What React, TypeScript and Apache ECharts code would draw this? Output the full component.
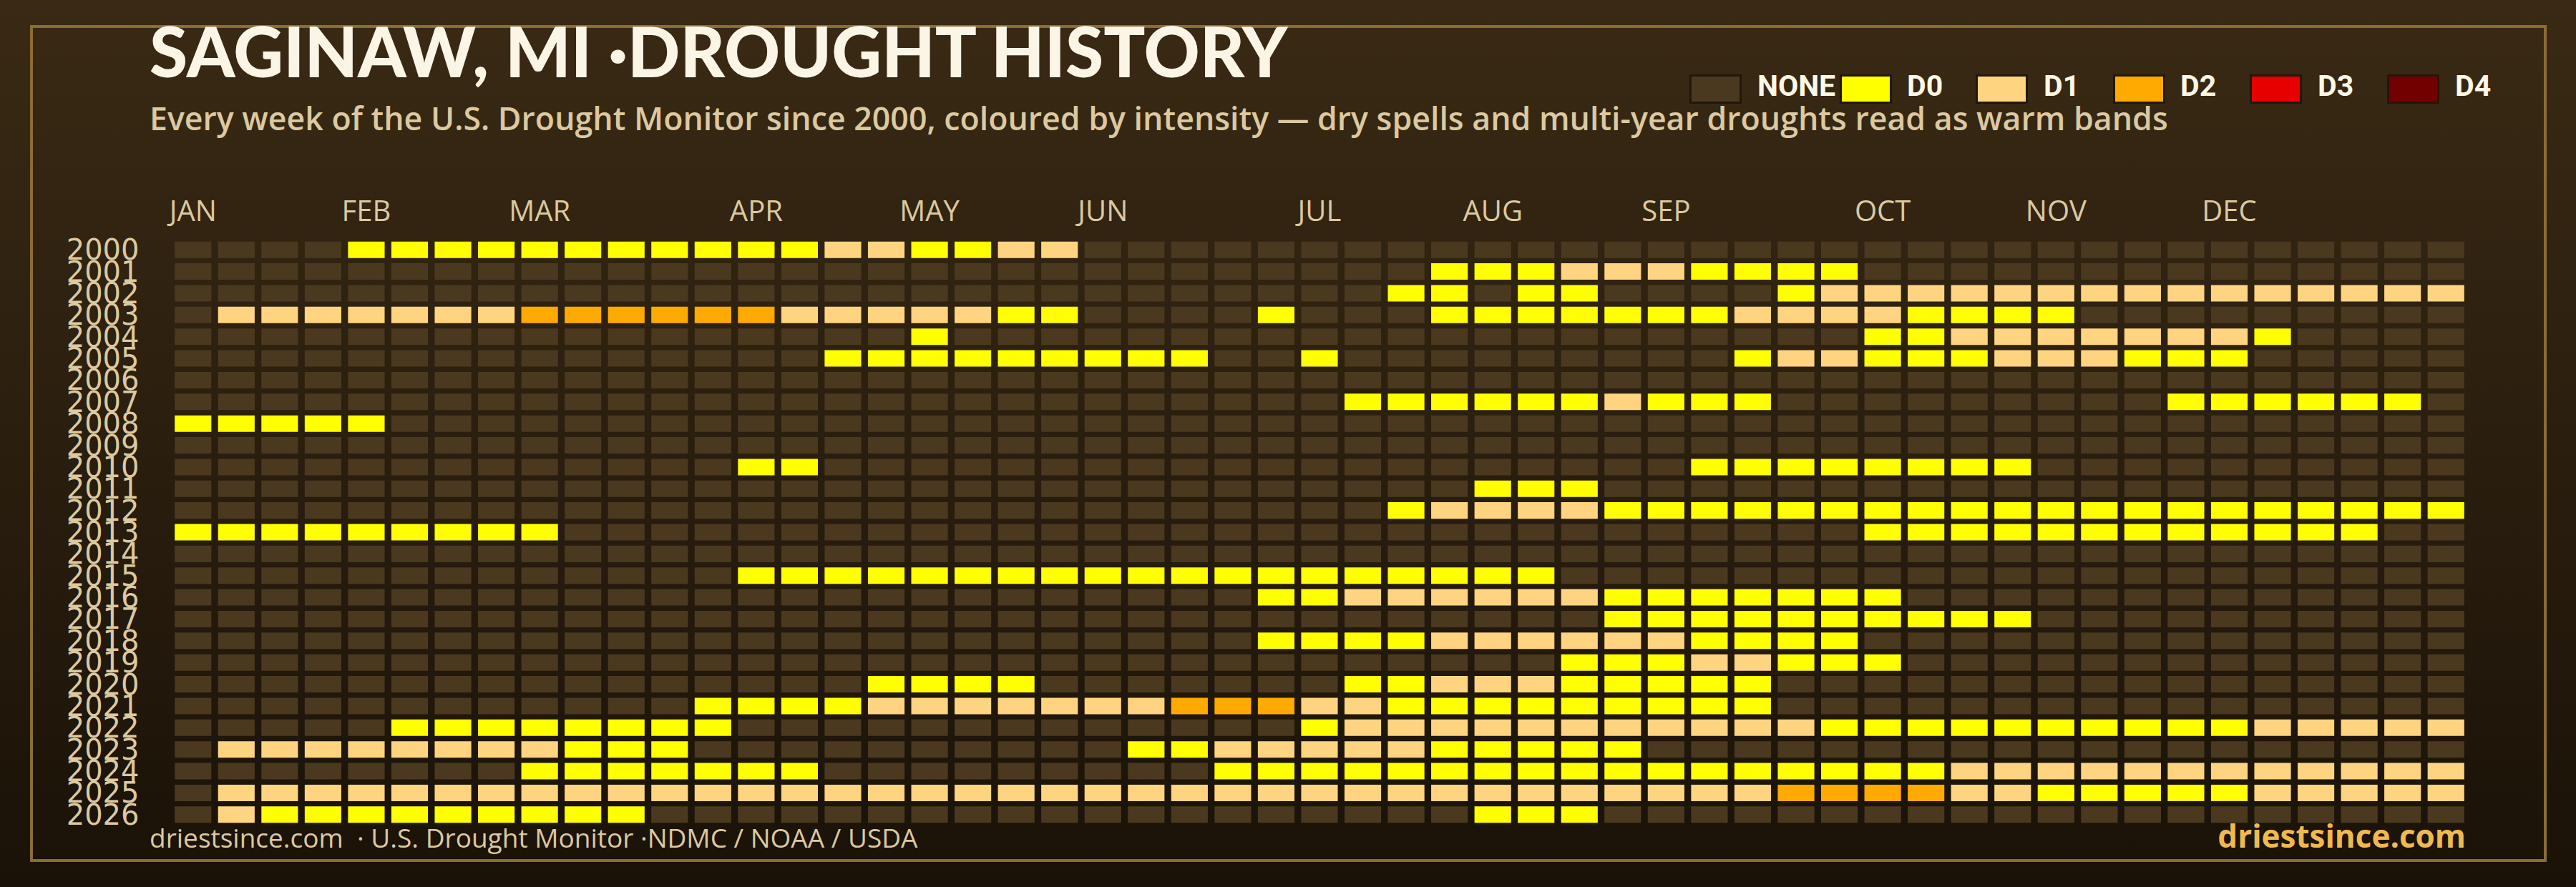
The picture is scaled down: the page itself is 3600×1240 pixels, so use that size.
import React, { useEffect, useRef } from "react";
import * as echarts from "echarts";

const TITLE = "SAGINAW, MI ·DROUGHT HISTORY";
const SUBTITLE = "Every week of the U.S. Drought Monitor since 2000, coloured by intensity — dry spells and multi-year droughts read as warm bands";
const SOURCE = "driestsince.com  · U.S. Drought Monitor ·NDMC / NOAA / USDA";
const BRAND = "driestsince.com";

const YEARS = ["2000","2001","2002","2003","2004","2005","2006","2007","2008","2009","2010","2011","2012","2013","2014","2015","2016","2017","2018","2019","2020","2021","2022","2023","2024","2025","2026"];
const WEEKS = Array.from({ length: 53 }, (_, i) => String(i));
const MONTH_WEEK = [0, 4, 8, 13, 17, 21, 26, 30, 34, 39, 43, 47];
const MONTH_NAME = ["JAN","FEB","MAR","APR","MAY","JUN","JUL","AUG","SEP","OCT","NOV","DEC"];
const LEVELS = ["NONE", "D0", "D1", "D2", "D3", "D4"];
const LEVEL_COLORS = ["#4a391f", "#ffff00", "#ffd480", "#ffaa00", "#e60000", "#730000"];

// Runs of [firstWeek, lastWeek, level]; every week not listed is NONE. Level 1=D0, 2=D1, 3=D2.
const y2000 = [[4,14,1],[15,16,2],[17,18,1],[19,20,2]];
const y2001 = [[29,31,1],[32,34,2],[35,38,1]];
const y2002 = [[28,29,1],[31,32,1],[37,37,1],[38,52,2]];
const y2003 = [[1,7,2],[8,13,3],[14,18,2],[19,20,1],[25,25,1],[29,35,1],[36,39,2],[40,43,1]];
const y2004 = [[17,17,1],[39,40,1],[41,47,2],[48,48,1]];
const y2005 = [[15,23,1],[26,26,1],[36,36,1],[37,38,2],[39,41,1],[42,44,2],[45,47,1]];
const y2006: number[][] = [];
const y2007 = [[27,32,1],[33,33,2],[34,36,1],[46,51,1]];
const y2008 = [[0,4,1]];
const y2009: number[][] = [];
const y2010 = [[13,14,1],[35,42,1]];
const y2011 = [[30,32,1]];
const y2012 = [[28,28,1],[29,32,2],[33,52,1]];
const y2013 = [[0,8,1],[39,50,1]];
const y2014: number[][] = [];
const y2015 = [[13,31,1]];
const y2016 = [[25,26,1],[27,32,2],[33,39,1]];
const y2017 = [[33,42,1]];
const y2018 = [[25,28,1],[29,34,2],[35,38,1]];
const y2019 = [[32,34,1],[35,36,2],[37,39,1]];
const y2020 = [[16,19,1],[27,28,1],[29,31,2],[32,36,1]];
const y2021 = [[12,15,1],[16,22,2],[23,25,3],[26,27,2],[28,36,1]];
const y2022 = [[5,12,1],[26,26,1],[27,37,2],[38,47,1],[48,52,2]];
const y2023 = [[1,8,2],[9,11,1],[22,23,1],[24,28,2],[29,33,1]];
const y2024 = [[8,14,1],[24,40,1],[41,52,2]];
const y2025 = [[1,36,2],[37,40,3],[41,42,2],[43,47,1],[48,52,2]];
const y2026 = [[1,1,2],[2,10,1],[30,32,1]];
const YEAR_RUNS = [y2000,y2001,y2002,y2003,y2004,y2005,y2006,y2007,y2008,y2009,y2010,y2011,y2012,y2013,y2014,y2015,y2016,y2017,y2018,y2019,y2020,y2021,y2022,y2023,y2024,y2025,y2026];

const FONT = "'Open Sans'";

function pointsByLevel(): number[][][] {
  const out: number[][][] = LEVELS.map(() => []);
  YEAR_RUNS.forEach((runs, row) => {
    WEEKS.forEach((_, week) => {
      const run = runs.find((r) => week >= r[0] && week <= r[1]);
      out[run ? run[2] : 0].push([week, row]);
    });
  });
  return out;
}

const SWATCH_LEFT = [2361, 2571, 2761, 2953, 3144, 3336];
const LABEL_LEFT = [2456, 2665, 2856, 3047, 3239, 3431];

export default function App() {
  const ref = useRef<HTMLDivElement>(null);
  useEffect(() => {
    document.body.style.margin = "0";
    const chart = echarts.init(ref.current!, undefined, { renderer: "svg" });
    const pts = pointsByLevel();
    const renderItem = (_: any, api: any) => {
      const c = api.coord([api.value(0), api.value(1)]);
      const s = api.size([1, 1]);
      const w = s[0] * 0.845;
      const h = s[1] * 0.758;
      return {
        type: "rect",
        shape: { x: c[0] - w / 2, y: c[1] - h / 2, width: w, height: h },
        style: { fill: api.visual("color") },
      };
    };
    chart.setOption({
      animation: false,
      backgroundColor: {
        type: "linear", x: 0, y: 0, x2: 0, y2: 1,
        colorStops: [{ offset: 0, color: "#3a2a14" }, { offset: 1, color: "#1a1208" }],
      },
      graphic: [
        {
          type: "rect", z: 0,
          shape: { x: 44, y: 37, width: 3513, height: 1166 },
          style: { fill: "transparent", stroke: "#8a6d35", lineWidth: 4 },
        },
        ...LEVELS.flatMap((name, i) => [
          {
            type: "rect", z: 5,
            shape: { x: SWATCH_LEFT[i] + 1.5, y: 105.5, width: 70, height: 38 },
            style: { fill: LEVEL_COLORS[i], stroke: "#22170a", lineWidth: 3 },
          },
          {
            type: "text", z: 5, x: LABEL_LEFT[i], y: 120,
            style: { text: name, fontFamily: "Roboto", fontWeight: 700, fontSize: 41, fill: "#fff8e7", verticalAlign: "middle", align: "left" },
          },
        ]),
      ],
      title: [
        { text: TITLE, left: 209, top: 22, padding: 0, textStyle: { fontFamily: "Lato", fontWeight: 900, fontSize: 96.5, lineHeight: 98, color: "#fbf5e6" } },
        { text: SUBTITLE, left: 209, top: 142, padding: 0, textStyle: { fontFamily: FONT, fontWeight: 600, fontSize: 44.7, lineHeight: 45, color: "#dcc9a0" } },
        { text: SOURCE, left: 209, top: 1152, padding: 0, textStyle: { fontFamily: FONT, fontWeight: 500, fontSize: 37, lineHeight: 36, color: "#dcc9a0" } },
        { text: BRAND, right: 154, top: 1146, padding: 0, textStyle: { fontFamily: FONT, fontWeight: 700, fontSize: 44, lineHeight: 44, color: "#f0b94f" } },
      ],
      grid: { left: 239.5, right: 151.5, top: 334, bottom: 86 },
      xAxis: {
        type: "category", position: "top", data: WEEKS,
        axisLine: { show: false }, axisTick: { show: false }, splitLine: { show: false },
        axisLabel: {
          interval: (i: number) => MONTH_WEEK.includes(i),
          formatter: (_: string, i: number) => MONTH_NAME[MONTH_WEEK.indexOf(i)] ?? "",
          fontFamily: FONT, fontWeight: 500, fontSize: 40, color: "#dcc9a0", margin: 21,
        },
      },
      yAxis: {
        type: "category", inverse: true, data: YEARS,
        axisLine: { show: false }, axisTick: { show: false }, splitLine: { show: false },
        axisLabel: { interval: 0, fontFamily: "'DejaVu Sans'", fontSize: 40, lineHeight: 30, padding: [0, 0, 4, 0], color: "#dcc9a0", margin: 45 },
      },
      series: LEVELS.map((name, i) => ({
        type: "custom", name, renderItem, data: pts[i],
        encode: { x: 0, y: 1 }, itemStyle: { color: LEVEL_COLORS[i] }, silent: true,
      })),
    });
    return () => chart.dispose();
  }, []);
  return <div ref={ref} style={{ width: 3600, height: 1240 }} />;
}
